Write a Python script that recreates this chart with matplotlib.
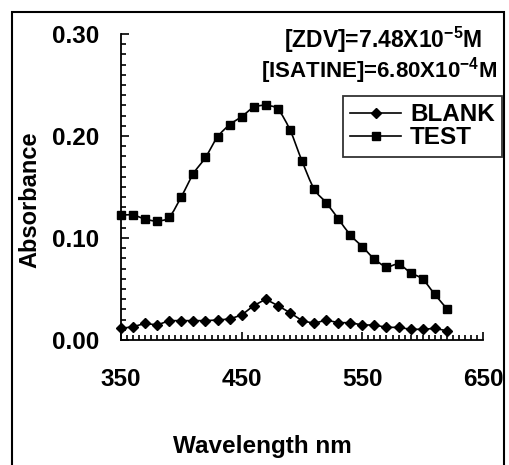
import numpy as np
import matplotlib
matplotlib.use("Agg")
import matplotlib.pyplot as plt
from matplotlib.path import Path
from matplotlib.patches import PathPatch, Rectangle
from matplotlib.lines import Line2D
from matplotlib.ticker import MultipleLocator

plt.rcParams['font.family'] = ['Liberation Sans', 'DejaVu Sans']
plt.rcParams['font.weight'] = 'bold'
plt.rcParams['mathtext.fontset'] = 'custom'
plt.rcParams['mathtext.rm'] = 'Liberation Sans:bold'
plt.rcParams['mathtext.bf'] = 'Liberation Sans:bold'
plt.rcParams['mathtext.default'] = 'rm'

# datos
wavelength = [350, 360, 370, 380, 390, 400, 410, 420, 430, 440, 450, 460, 470, 480,
              490, 500, 510, 520, 530, 540, 550, 560, 570, 580, 590, 600, 610, 620]
blank = [0.0114, 0.013, 0.0163, 0.0147, 0.019, 0.019, 0.019, 0.019, 0.0196, 0.0206,
         0.0245, 0.0337, 0.040, 0.0337, 0.0268, 0.019, 0.0163, 0.0196, 0.017, 0.017,
         0.0147, 0.0147, 0.0124, 0.0124, 0.0105, 0.0105, 0.0114, 0.0091]
test = [0.1225, 0.1225, 0.1186, 0.1167, 0.1206, 0.1405, 0.163, 0.179, 0.199, 0.211,
        0.219, 0.228, 0.230, 0.226, 0.206, 0.1755, 0.1482, 0.1346, 0.119, 0.103,
        0.0915, 0.0794, 0.0719, 0.0742, 0.066, 0.0595, 0.0448, 0.0307]

x_ticks = [350, 450, 550, 650]
y_ticks = [0.00, 0.10, 0.20, 0.30]
conc_labels = [r"[ZDV]=7.48X10$^{-5}$M", r"[ISATINE]=6.80X10$^{-4}$M"]


def curva_suave(x, y):
    """Linea suavizada tipo Excel (Bezier por Catmull-Rom)."""
    p = np.column_stack([x, y]).astype(float)
    n = len(p)
    verts = [p[0]]
    codes = [Path.MOVETO]
    for i in range(n - 1):
        p0 = p[i - 1] if i > 0 else p[i]
        p1 = p[i]
        p2 = p[i + 1]
        p3 = p[i + 2] if i + 2 < n else p[i + 1]
        verts += [p1 + (p2 - p0) / 6, p2 - (p3 - p1) / 6, p2]
        codes += [Path.CURVE4] * 3
    return Path(verts, codes)


W, H = 509, 465
fig = plt.figure(figsize=(W / 100, H / 100), dpi=100)
ax = fig.add_axes([121 / W, 1 - 340 / H, (483 - 121) / W, (340 - 34) / H])

# marco exterior
fig.patches.append(Rectangle((12 / W, -0.05), (504 - 12) / W, 1.05 - 12 / H,
                             transform=fig.transFigure, fill=False,
                             edgecolor='black', linewidth=1.5))

ax.plot(wavelength, blank, '-', color='black', lw=1.2, marker='D', markersize=5,
        clip_on=False)
ax.add_patch(PathPatch(curva_suave(wavelength, test), fill=False,
                       edgecolor='black', lw=1.2, clip_on=False))
ax.plot(wavelength, test, 's', color='black', markersize=6, clip_on=False)

ax.set_xlim(350, 650)
ax.set_ylim(0, 0.30)
ax.set_xticks(x_ticks)
ax.set_yticks(y_ticks)
ax.set_yticklabels([f"{v:.2f}" for v in y_ticks])
ax.xaxis.set_minor_locator(MultipleLocator(5))
ax.yaxis.set_minor_locator(MultipleLocator(0.01))
ax.tick_params(which='both', direction='in', width=1.2, labelsize=17.5)
ax.tick_params(which='major', length=6)
ax.tick_params(which='minor', length=3.5)
ax.tick_params(axis='x', pad=20)
ax.tick_params(axis='y', pad=16)

for lado in ['top', 'right']:
    ax.spines[lado].set_visible(False)
for lado in ['left', 'bottom']:
    ax.spines[lado].set_linewidth(1.3)

# titulos de ejes colocados como en el original
fig.text(262 / W, 1 - 446 / H, "Wavelength nm", fontsize=17.5, fontweight='bold',
         ha='center', va='center')
fig.text(30 / W, 1 - 200 / H, "Absorbance", fontsize=17, fontweight='bold',
         ha='center', va='center', rotation=90)

fig.text(482 / W, 1 - 40 / H, conc_labels[0], fontsize=16.5, fontweight='bold',
         ha='right', va='center')
fig.text(497 / W, 1 - 71 / H, conc_labels[1], fontsize=16, fontweight='bold',
         ha='right', va='center')

handles = [Line2D([], [], color='black', lw=1.2, marker='D', markersize=5),
           Line2D([], [], color='black', lw=1.2, marker='s', markersize=6)]
leg = ax.legend(handles, ["BLANK", "TEST"], loc='upper right',
                bbox_to_anchor=(502 / W, 1 - 96 / H), bbox_transform=fig.transFigure,
                fancybox=False, frameon=True, fontsize=17.5, borderaxespad=0,
                handlelength=2.1, handletextpad=0.35, labelspacing=0.0,
                borderpad=0.3)
leg.get_frame().set_edgecolor('black')
leg.get_frame().set_linewidth(1.3)

fig.savefig("out.png", dpi=100)
